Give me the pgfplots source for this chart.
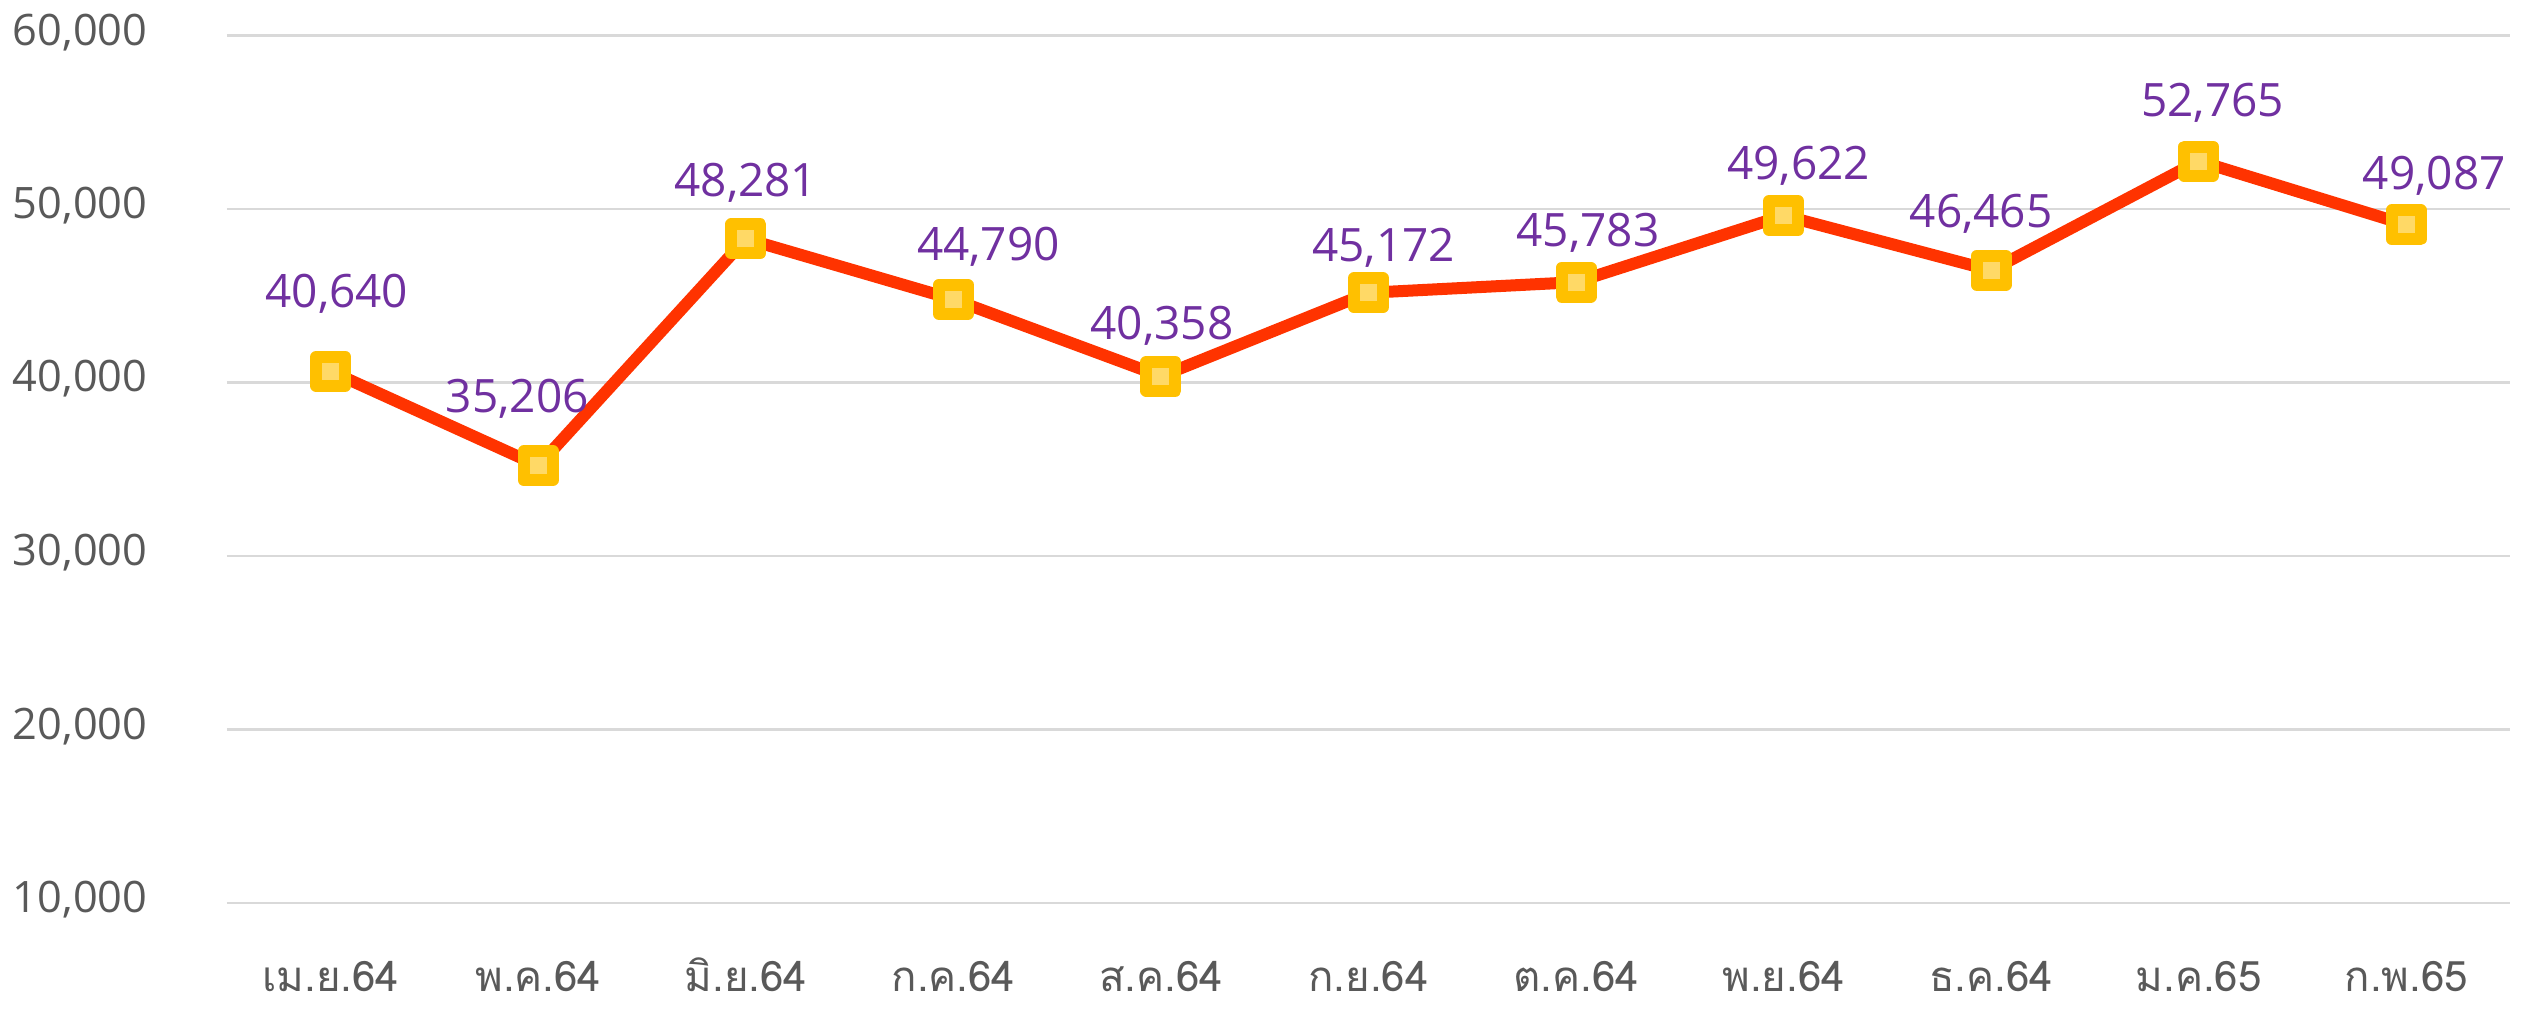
\documentclass[border=0pt]{standalone}
\usepackage{pgfplots}
\pgfplotsset{compat=1.18}
\usepackage{pgfplotstable}
\usepackage{fontspec}
\setmainfont{Open Sans}
\newfontfamily\thaifont[Script=Thai]{Loma}
\definecolor{linered}{HTML}{FF3300}
\definecolor{mkgold}{HTML}{FFC000}
\definecolor{mklight}{HTML}{FFD966}
\definecolor{lblpurple}{HTML}{7030A0}
\definecolor{tickgray}{HTML}{595959}
\definecolor{gridgray}{HTML}{D9D9D9}

\pgfplotstableread{
x y dx dy
0 40640 1.8 19.05
1 35206 -6.3 16.05
2 48281 0 12.75
3 44790 10.5 11.55
4 40358 0.3 10.95
5 45172 4.5 9.45
6 45783 3.6 10.65
7 49622 4.5 10.95
8 46465 -3 12.75
9 52765 4.2 13.35
10 49087 8.4 10.65
}\datatable

\begin{document}
\begin{tikzpicture}
\begin{axis}[
  width=684.9bp, height=260.25bp, scale only axis,
  xmin=-0.5, xmax=10.5, ymin=10000, ymax=60000,
  xtick={0,...,10},
  xticklabels={เม.ย.64, พ.ค.64, มิ.ย.64, ก.ค.64, ส.ค.64, ก.ย.64, ต.ค.64, พ.ย.64, ธ.ค.64, ม.ค.65, ก.พ.65},
  ytick={10000,20000,30000,40000,50000,60000},
  scaled y ticks=false,
  ymajorgrids,
  major grid style={gridgray, line width=0.75bp},
  axis line style={draw=none},
  major tick length=0pt,
  clip=false,
  /pgf/number format/assume math mode=true,
  /pgf/number format/1000 sep={,},
  /pgf/number format/fixed,
  /pgf/number format/precision=0,
  yticklabel style={anchor=base east, inner sep=0pt, xshift=-23.7bp, yshift=-2.85bp, text=tickgray, font=\fontsize{13bp}{15bp}\selectfont},
  xticklabel style={anchor=base, inner sep=0pt, text depth=0pt, yshift=-26.6bp, text=tickgray, font=\thaifont\fontsize{12.6bp}{15bp}\selectfont},
]
\addplot[color=linered, line width=3.6bp, line join=round,
  mark=square*, mark size=4.35bp,
  mark options={draw=mkgold, fill=mklight, line width=3.6bp, line join=round, solid},
  nodes near coords,
  visualization depends on={\thisrow{dx} \as \dx},
  visualization depends on={\thisrow{dy} \as \dy},
  nodes near coords style={anchor=base, inner sep=0pt, xshift=\dx bp, yshift=\dy bp, text=lblpurple, font=\fontsize{13.8bp}{16bp}\selectfont},
] table[x=x, y=y] {\datatable};
\end{axis}
\pgfresetboundingbox
\path (-68.1bp,-31.8bp) rectangle (688.5bp,270.9bp);
\end{tikzpicture}
\end{document}
